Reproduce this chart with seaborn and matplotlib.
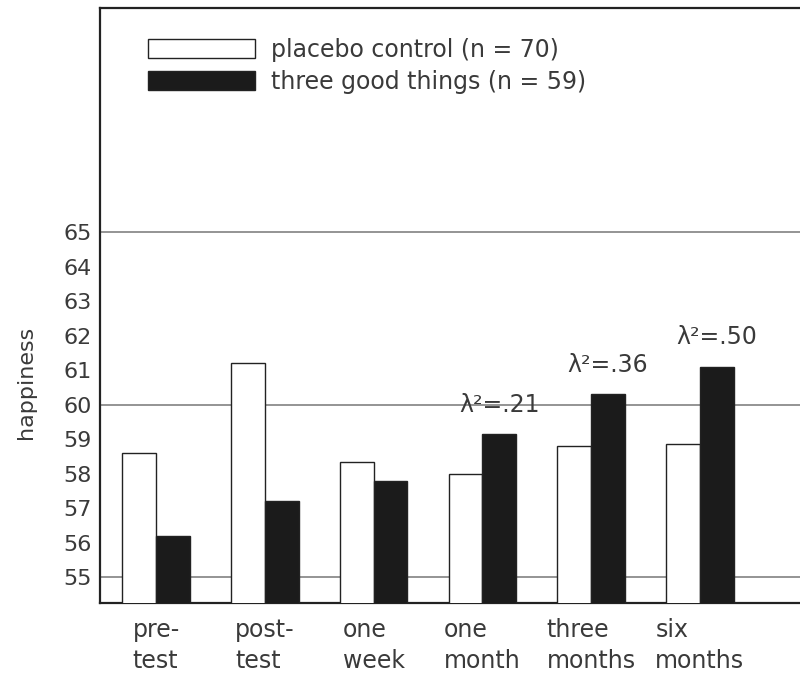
import pandas as pd
import matplotlib
matplotlib.use('Agg')
import matplotlib.pyplot as plt
import seaborn as sns

# values
times = ['pre-\ntest', 'post-\ntest', 'one\nweek', 'one\nmonth', 'three\nmonths', 'six\nmonths']
placebo = [58.6, 61.2, 58.35, 58.0, 58.8, 58.85]
three_good = [56.2, 57.2, 57.8, 59.15, 60.3, 61.1]
effect_labels = ['', '', '', 'λ²=.21', 'λ²=.36', 'λ²=.50']
group_names = ['placebo control (n = 70)', 'three good things (n = 59)']

df = pd.DataFrame({
    'time': times * 2,
    'happiness': placebo + three_good,
    'group': [group_names[0]] * len(times) + [group_names[1]] * len(times),
})

sns.set_style('white')
plt.rcParams['font.family'] = ['DejaVu Sans']

fig = plt.figure(figsize=(8, 6.85), dpi=100)
ax = fig.add_axes([0.125, 0.1197, 0.875, 0.8686])

sns.barplot(data=df, x='time', y='happiness', hue='group', order=times,
            hue_order=group_names,
            palette={group_names[0]: 'white', group_names[1]: '#1b1b1b'},
            edgecolor='#222222', linewidth=1.0, width=0.62, gap=0,
            errorbar=None, ax=ax, zorder=3)

# horizontal reference lines behind bars
for yv in [55, 60, 65]:
    ax.axhline(yv, color='#777777', lw=1.1, zorder=1)

# effect size labels above the black bars
for i, (val, lab) in enumerate(zip(three_good, effect_labels)):
    if lab:
        ax.text(i + 0.155, val + 0.85, lab, ha='center', va='center',
                fontsize=17, color='#3a3a3a', zorder=4)

ax.set_ylim(54.25, 71.5)
ax.set_xlim(-0.515, 5.92)
ax.set_yticks(range(55, 66))
ax.tick_params(axis='y', length=0, pad=6, labelsize=16, colors='#3a3a3a')
ax.tick_params(axis='x', length=0, pad=11, labelsize=17, colors='#3a3a3a')
for t in ax.get_xticklabels():
    t.set_multialignment('left')
    t.set_linespacing(1.35)

ax.set_xlabel('')
ax.set_ylabel('happiness', fontsize=16, color='#3a3a3a')
ax.yaxis.set_label_coords(-0.092, 0.37)

for side in ['left', 'top', 'bottom']:
    ax.spines[side].set_color('#222222')
    ax.spines[side].set_linewidth(1.6)
ax.spines['right'].set_visible(False)

handles, labels = ax.get_legend_handles_labels()
ax.legend(handles, labels, loc='upper left', bbox_to_anchor=(0.069, 0.95),
          frameon=False, fontsize=17, handlelength=4.5, handleheight=0.85,
          borderpad=0, borderaxespad=0, labelspacing=0.35, handletextpad=0.7,
          labelcolor='#3a3a3a')

fig.savefig('out.png', dpi=100)
